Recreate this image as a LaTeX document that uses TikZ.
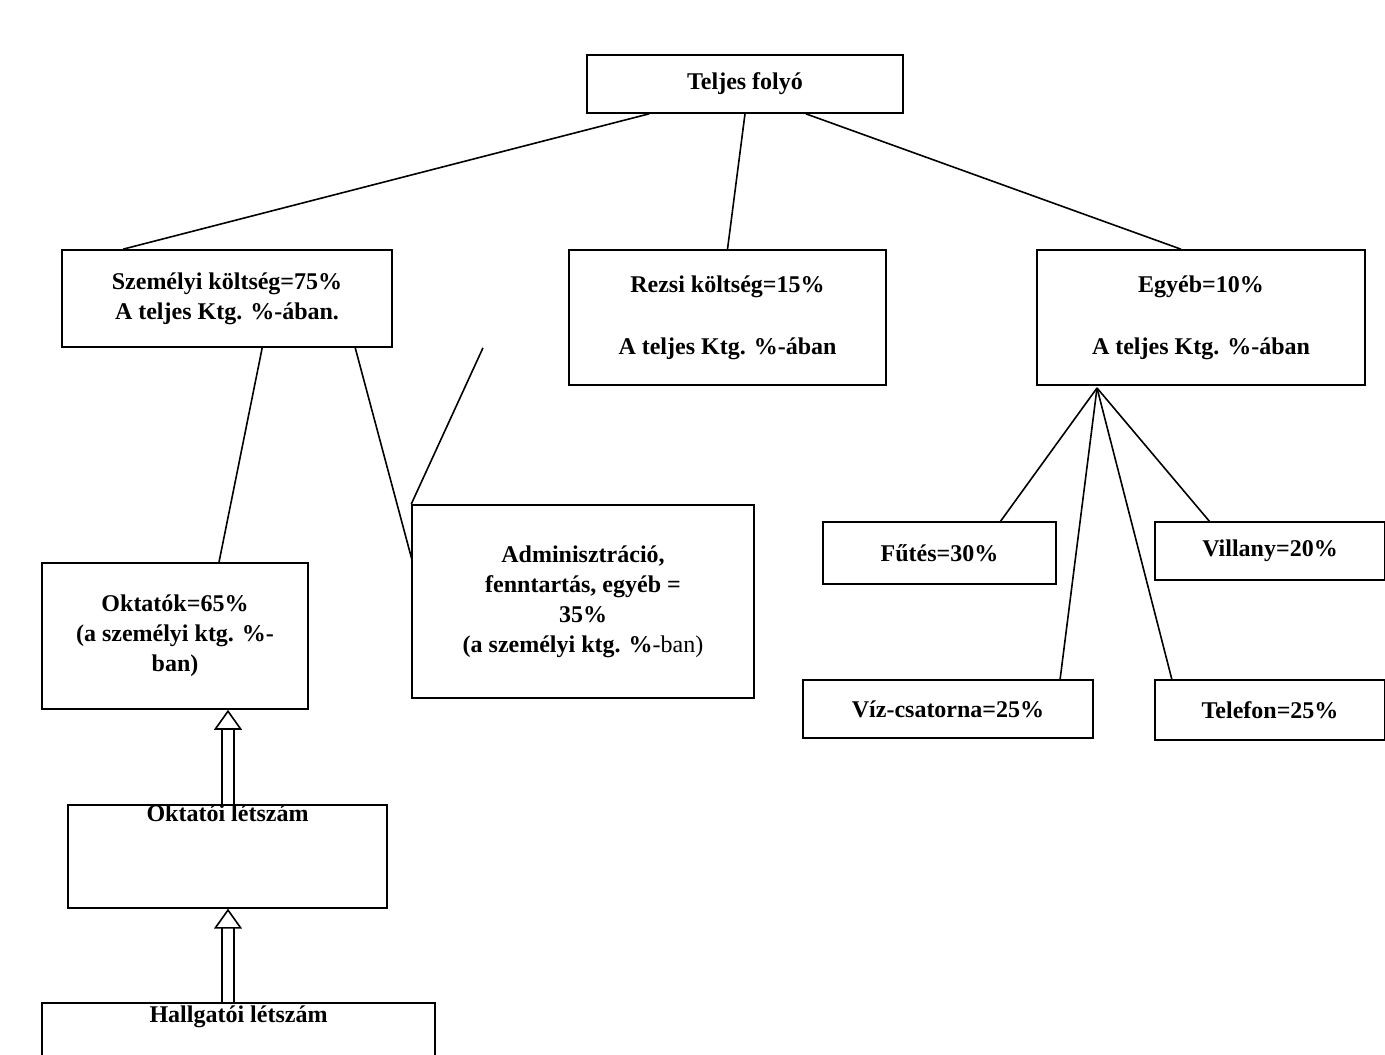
\documentclass[tikz,border=0pt]{standalone}
\usepackage{fontspec}
\setmainfont{Liberation Serif}
\usetikzlibrary{arrows.meta}
\tikzset{
  box/.style={draw,thick,inner sep=0pt,align=center,font=\bfseries\fontsize{12}{15}\selectfont},
  link/.style={thick},
  push/.style={double,thick,double distance=5pt,-{Triangle[open,width=14pt,length=10pt]}}
}
\newcommand{\mkbox}[6]{\node[box,minimum width={(#4-#2)*0.5pt},minimum height={(#5-#3)*0.5pt}] (#1) at ({(#2+#4)/2},{(#3+#5)/2}) {#6};}
\begin{document}
\begin{tikzpicture}[x=0.5pt,y=-0.5pt]
\useasboundingbox (0,0) rectangle (1385,1054);
\mkbox{total}{587}{55}{903}{113}{Teljes folyó}
\mkbox{pers}{62}{250}{392}{347}{Személyi költség=75\%\\A teljes Ktg. \%-ában.}
\mkbox{rezsi}{569}{250}{886}{385}{Rezsi költség=15\%\\[16pt]A teljes Ktg. \%-ában}
\mkbox{egyeb}{1037}{250}{1365}{385}{Egyéb=10\%\\[16pt]A teljes Ktg. \%-ában}
\mkbox{okt}{42}{563}{308}{709}{Oktatók=65\%\\(a személyi ktg. \%-\\ban)}
\mkbox{admin}{412}{505}{754}{698}{Adminisztráció,\\fenntartás, egyéb =\\35\%\\(a személyi ktg. \%\mdseries-ban)}
\mkbox{futes}{823}{522}{1056}{584}{Fűtés=30\%}
\mkbox{villany}{1155}{522}{1385}{580}{Villany=20\%}
\mkbox{viz}{803}{680}{1093}{738}{Víz-csatorna=25\%}
\mkbox{tel}{1155}{680}{1385}{740}{Telefon=25\%}
\mkbox{oktl}{68}{808}{387}{905}{Oktatói létszám\\[28pt]\mbox{}}
\mkbox{hallg}{42}{1003}{435}{1075}{Hallgatói létszám\\[10pt]\mbox{}}
\coordinate (hub) at (1097,388);
% connectors
\draw[link] (total.south west)++(63,0) -- ([xshift=-52]pers.north);
\draw[link] (total.south) -- (rezsi.north);
\draw[link] (total.south east)++(-98,0) -- ([xshift=-10]egyeb.north);
\draw[link] ([xshift=18]pers.south west) ++(165,0) -- ([xshift=22]okt.north);
\draw[link] ([xshift=128]pers.south) -- (admin.north west)++(0,55) coordinate (a1);
\draw[link] (355,347) -- (412,560);
\draw[link] (hub) -- (1000,522);
\draw[link] (hub) -- (1060,680);
\draw[link] (hub) -- (1172,680);
\draw[link] (hub) -- (1210,522);
\draw[push] (oktl.north -| 228,0) -- (okt.south -| 228,0);
\draw[push] (hallg.north -| 228,0) -- (oktl.south -| 228,0);
\end{tikzpicture}
\end{document}
